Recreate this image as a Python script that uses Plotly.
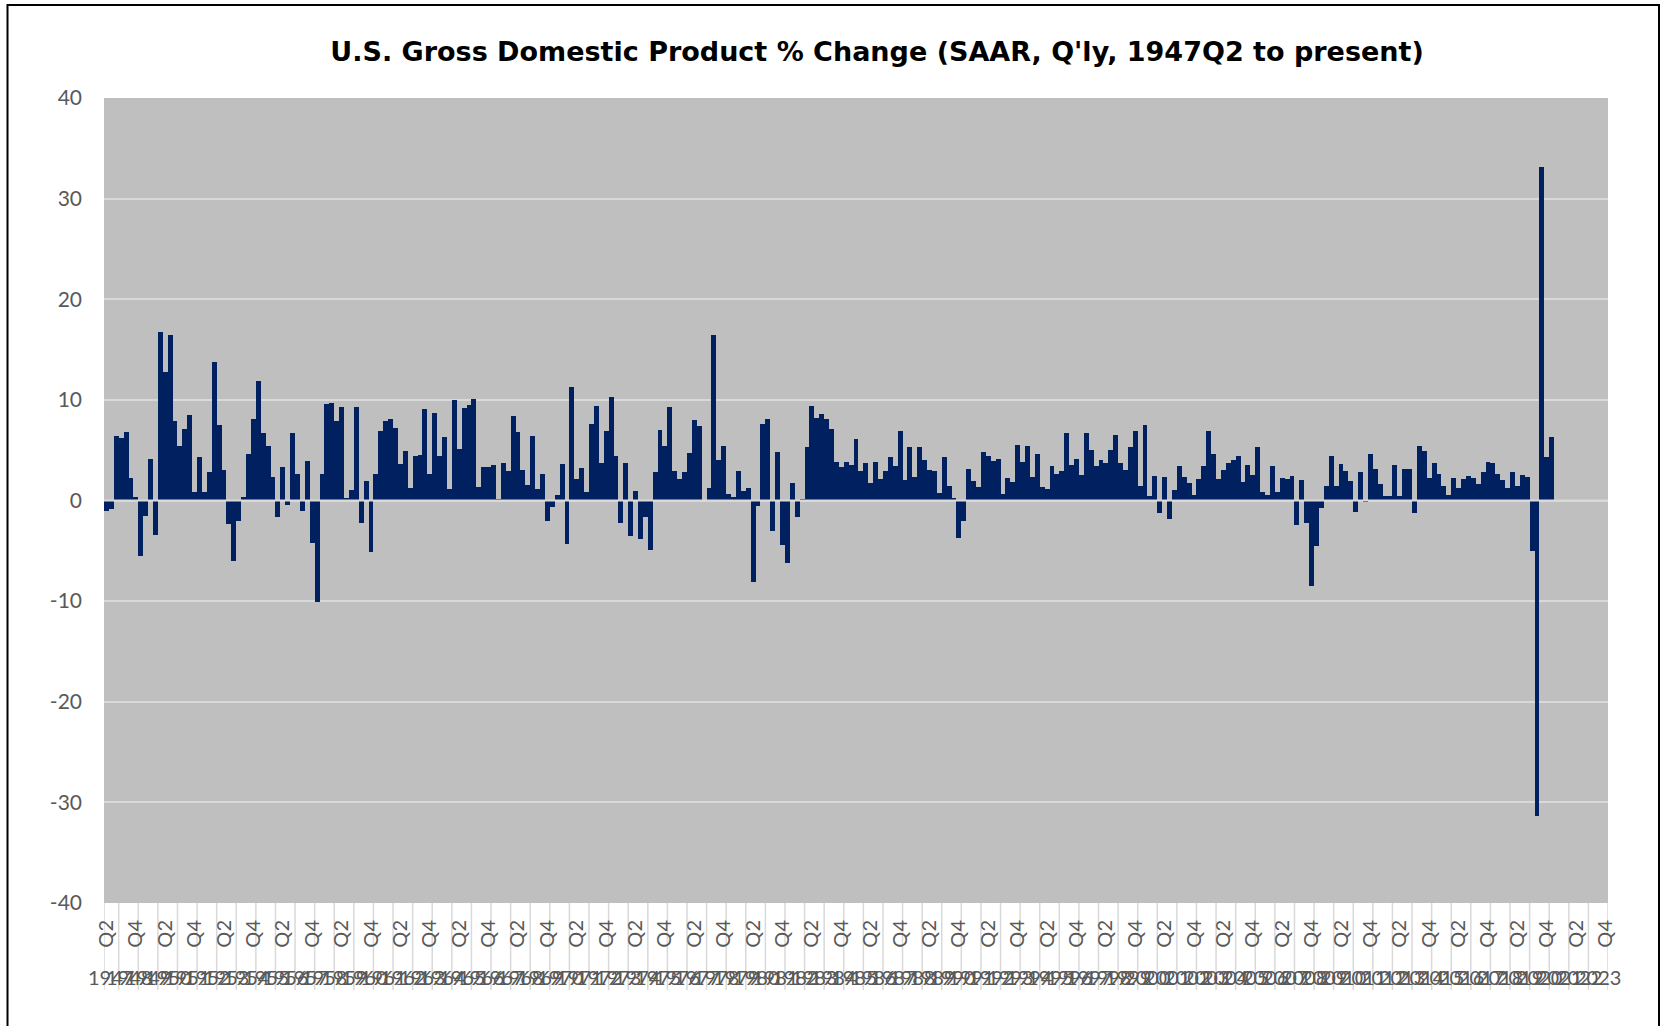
import plotly.graph_objects as go

# ---------------- data ----------------
title_text = "U.S. Gross Domestic Product % Change (SAAR, Q'ly, 1947Q2 to present)"

first_year = 1947
last_axis_year = 2023
years = list(range(first_year, last_axis_year + 1))
quarters = ["Q1", "Q2", "Q3", "Q4"]

# real GDP % change, SAAR, quarterly from 1947Q2 to 2021Q1
gdp_change = [
    -1.0, -0.8, 6.4,                                   # 1947
    6.2, 6.8, 2.2, 0.3,                                # 1948
    -5.5, -1.5, 4.1, -3.4,                             # 1949
    16.7, 12.8, 16.4, 7.9,                             # 1950
    5.4, 7.1, 8.5, 0.8,                                # 1951
    4.3, 0.8, 2.8, 13.8,                               # 1952
    7.5, 3.0, -2.3, -6.0,                              # 1953
    -2.0, 0.3, 4.6, 8.1,                               # 1954
    11.9, 6.7, 5.4, 2.3,                               # 1955
    -1.6, 3.3, -0.4, 6.7,                              # 1956
    2.6, -1.0, 3.9, -4.2,                              # 1957
    -10.1, 2.6, 9.6, 9.7,                              # 1958
    7.9, 9.3, 0.2, 1.0,                                # 1959
    9.3, -2.2, 1.9, -5.1,                              # 1960
    2.6, 6.9, 7.9, 8.1,                                # 1961
    7.2, 3.6, 4.9, 1.2,                                # 1962
    4.4, 4.5, 9.1, 2.6,                                # 1963
    8.7, 4.4, 6.3, 1.1,                                # 1964
    10.0, 5.1, 9.2, 9.5,                               # 1965
    10.1, 1.3, 3.3, 3.3,                               # 1966
    3.5, 0.1, 3.7, 2.9,                                # 1967
    8.4, 6.8, 3.0, 1.5,                                # 1968
    6.4, 1.1, 2.6, -2.0,                               # 1969
    -0.6, 0.5, 3.6, -4.3,                              # 1970
    11.3, 2.1, 3.2, 0.8,                               # 1971
    7.6, 9.4, 3.7, 6.9,                                # 1972
    10.3, 4.4, -2.2, 3.7,                              # 1973
    -3.5, 0.9, -3.8, -1.6,                             # 1974
    -4.9, 2.8, 7.0, 5.4,                               # 1975
    9.3, 2.9, 2.1, 2.8,                                # 1976
    4.7, 8.0, 7.4, 0.0,                                # 1977
    1.2, 16.4, 4.0, 5.4,                               # 1978
    0.6, 0.3, 2.9, 0.9,                                # 1979
    1.2, -8.1, -0.5, 7.6,                              # 1980
    8.1, -3.0, 4.8, -4.4,                              # 1981
    -6.2, 1.7, -1.6, 0.1,                              # 1982
    5.3, 9.4, 8.2, 8.6,                                # 1983
    8.1, 7.1, 3.8, 3.3,                                # 1984
    3.8, 3.5, 6.1, 2.9,                                # 1985
    3.7, 1.7, 3.8, 2.1,                                # 1986
    2.9, 4.3, 3.4, 6.9,                                # 1987
    2.0, 5.3, 2.3, 5.3,                                # 1988
    4.0, 3.0, 2.9, 0.7,                                # 1989
    4.3, 1.4, 0.2, -3.7,                               # 1990
    -2.0, 3.1, 1.9, 1.3,                               # 1991
    4.8, 4.4, 3.9, 4.1,                                # 1992
    0.6, 2.2, 1.8, 5.5,                                # 1993
    3.8, 5.4, 2.3, 4.6,                                # 1994
    1.3, 1.1, 3.4, 2.6,                                # 1995
    2.9, 6.7, 3.5, 4.1,                                # 1996
    2.5, 6.7, 5.0, 3.4,                                # 1997
    4.0, 3.7, 5.0, 6.5,                                # 1998
    3.7, 3.0, 5.3, 6.9,                                # 1999
    1.4, 7.5, 0.4, 2.4,                                # 2000
    -1.2, 2.3, -1.8, 1.0,                              # 2001
    3.4, 2.3, 1.7, 0.5,                                # 2002
    2.1, 3.4, 6.9, 4.6,                                # 2003
    2.1, 3.0, 3.7, 4.0,                                # 2004
    4.4, 1.8, 3.5, 2.5,                                # 2005
    5.3, 0.8, 0.5, 3.4,                                # 2006
    0.8, 2.2, 2.1, 2.4,                                # 2007
    -2.4, 2.0, -2.2, -8.5,                             # 2008
    -4.5, -0.7, 1.4, 4.4,                              # 2009
    1.4, 3.6, 2.9, 1.9,                                # 2010
    -1.1, 2.8, -0.1, 4.6,                              # 2011
    3.1, 1.6, 0.4, 0.4,                                # 2012
    3.5, 0.4, 3.1, 3.1,                                # 2013
    -1.2, 5.4, 4.9, 2.2,                               # 2014
    3.7, 2.6, 1.4, 0.5,                                # 2015
    2.2, 1.2, 2.1, 2.4,                                # 2016
    2.2, 1.6, 2.8, 3.8,                                # 2017
    3.7, 2.6, 2.0, 1.2,                                # 2018
    2.8, 1.4, 2.5, 2.3,                                # 2019
    -5.0, -31.4, 33.1, 4.3,                            # 2020
    6.3,                                               # 2021
]

y_tick_values = [-40, -30, -20, -10, 0, 10, 20, 30, 40]
y_tick_labels = ["-40", "-30", "-20", "-10", "0", "10", "20", "30", "40"]

# ---------------- categories ----------------
cat_year = []
cat_quarter = []
for yr in years:
    for q in quarters:
        if yr == first_year and q == "Q1":
            continue
        cat_year.append(yr)
        cat_quarter.append(q)
categories = [f"{y}{q}" for y, q in zip(cat_year, cat_quarter)]
n_cat = len(categories)

data_x = categories[:len(gdp_change)]

tick_step = 6
x_tick_vals = categories[::tick_step]
x_tick_text = cat_quarter[::tick_step]

# ---------------- styling ----------------
W, H = 1665, 1026
ML, MR, MT, MB = 104, 57, 98, 123
plot_w = W - ML - MR
plot_h = H - MT - MB

def px_to_paper_x(px):
    return (px - ML) / plot_w

def px_to_paper_y(py):
    return (H - MB - py) / plot_h

bar_color = "#002060"
grid_color = "#D9D9D9"
text_color = "#595959"
font_family = "Lato, 'Open Sans', 'Liberation Sans', sans-serif"
title_family = "'DejaVu Sans', 'Open Sans', sans-serif"

fig = go.Figure()
fig.add_trace(go.Bar(
    x=data_x,
    y=gdp_change,
    marker=dict(color=bar_color, line=dict(width=0)),
    hoverinfo="x+y",
))

# year boundary positions & labels (category index space)
year_start_idx = {}
year_end_idx = {}
for i, yr in enumerate(cat_year):
    year_start_idx.setdefault(yr, i)
    year_end_idx[yr] = i

shapes = []
boundaries = [year_start_idx[yr] - 0.5 for yr in years] + [n_cat - 0.5]
for b in boundaries:
    shapes.append(dict(
        type="line", xref="x", yref="paper",
        x0=b, x1=b, y0=0, y1=px_to_paper_y(990),
        line=dict(color=grid_color, width=1.5), layer="below",
    ))

# zero (category) axis line drawn above bars
shapes.append(dict(
    type="line", xref="paper", yref="y",
    x0=0, x1=1, y0=0, y1=0,
    line=dict(color=grid_color, width=2), layer="above",
))

# outer chart border
shapes.append(dict(
    type="rect", xref="paper", yref="paper",
    x0=px_to_paper_x(7.5), x1=px_to_paper_x(1659),
    y0=px_to_paper_y(1040), y1=px_to_paper_y(5),
    line=dict(color="#000000", width=2), fillcolor="rgba(0,0,0,0)",
    layer="above",
))

annotations = []
for yr in years:
    center = (year_start_idx[yr] + year_end_idx[yr]) / 2
    annotations.append(dict(
        x=center, xref="x", y=px_to_paper_y(977), yref="paper",
        text=str(yr), showarrow=False,
        xanchor="center", yanchor="middle",
        font=dict(size=20, color=text_color, family=font_family),
    ))

fig.update_layout(
    width=W, height=H, autosize=False,
    margin=dict(l=ML, r=MR, t=MT, b=MB, pad=0),
    paper_bgcolor="white",
    plot_bgcolor="#BFBFBF",
    bargap=0,
    showlegend=False,
    font=dict(family=font_family, color=text_color),
    title=dict(
        text="<b>" + title_text + "</b>",
        x=px_to_paper_x(877), xref="paper", xanchor="center",
        y=1 - 52 / H, yref="container", yanchor="middle",
        font=dict(size=27, color="#000000", family=title_family),
    ),
    xaxis=dict(
        type="category",
        categoryorder="array", categoryarray=categories,
        range=[-0.5, n_cat - 0.5],
        tickmode="array", tickvals=x_tick_vals, ticktext=x_tick_text,
        tickangle=-90,
        tickfont=dict(size=20, color=text_color, family=font_family),
        ticks="", showgrid=False, showline=False, zeroline=False,
        ticklabelstandoff=12,
        fixedrange=True,
    ),
    yaxis=dict(
        range=[-40, 40],
        tickmode="array", tickvals=y_tick_values, ticktext=y_tick_labels,
        tickfont=dict(size=21, color=text_color, family=font_family),
        showgrid=True, gridcolor=grid_color, gridwidth=2,
        zeroline=False, showline=False, ticks="",
        ticklabelstandoff=21,
        fixedrange=True,
    ),
    shapes=shapes,
    annotations=annotations,
)

fig.write_html(
    "out.html",
    config={"displayModeBar": False},
    post_script="document.body.style.margin='0';",
)
